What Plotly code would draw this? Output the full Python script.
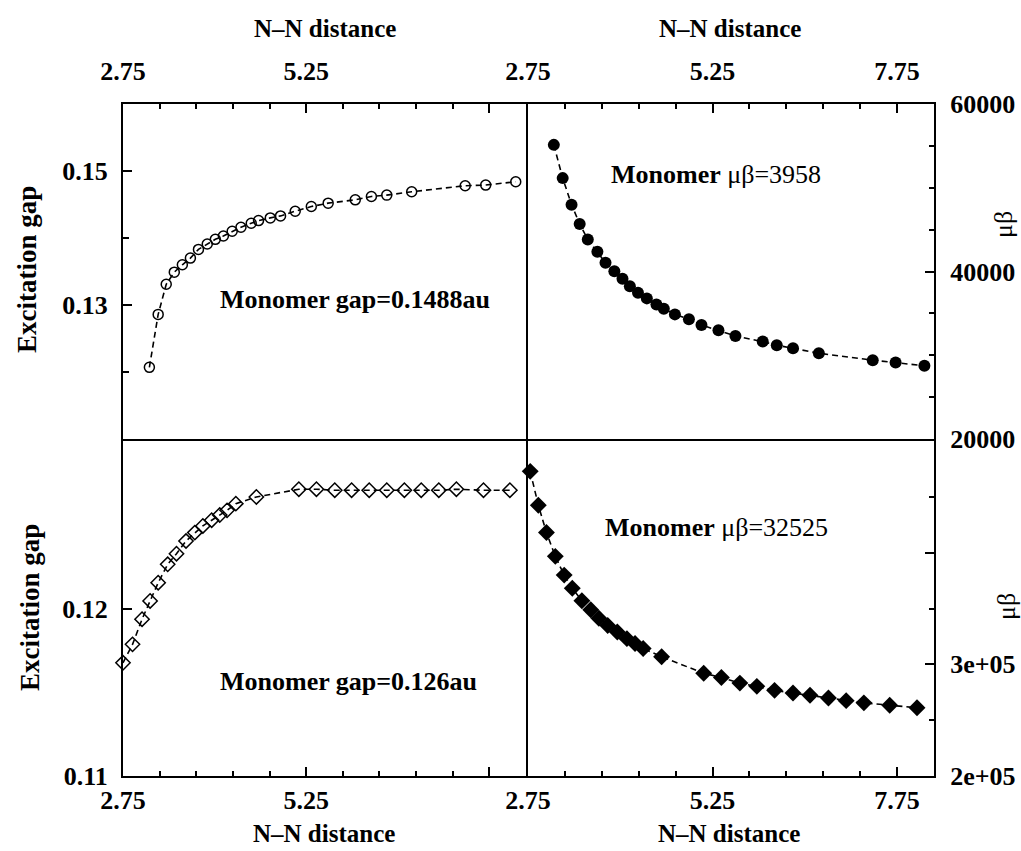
import plotly.graph_objects as go

# ---------------- data ----------------
x_gap_top = [3.11, 3.23, 3.34, 3.45, 3.56, 3.67, 3.78, 3.90, 4.01, 4.12, 4.24, 4.36, 4.50,
             4.60, 4.76, 4.90, 5.10, 5.32, 5.55, 5.92, 6.14, 6.35, 6.69, 7.42, 7.70, 8.11]
gap_top = [0.1207, 0.1286, 0.1331, 0.1349, 0.1360, 0.1370, 0.1383, 0.1391, 0.1398, 0.1403,
           0.1410, 0.1416, 0.1422, 0.1426, 0.1430, 0.1433, 0.1440, 0.1447, 0.1452, 0.1457,
           0.1462, 0.1464, 0.1469, 0.1478, 0.1479, 0.1484]

x_mb_top = [3.10, 3.22, 3.34, 3.45, 3.56, 3.69, 3.80, 3.92, 4.03, 4.13, 4.24, 4.36, 4.49,
            4.59, 4.74, 4.93, 5.10, 5.33, 5.56, 5.93, 6.12, 6.34, 6.69, 7.42, 7.73, 8.12]
mb_top = [55120, 51150, 47980, 45680, 43810, 42350, 41040, 40040, 39130, 38250, 37460,
          36790, 36070, 35560, 34880, 34290, 33610, 32980, 32300, 31630, 31190, 30830,
          30240, 29410, 29130, 28740]

x_gap_bot = [2.75, 2.88, 3.01, 3.12, 3.23, 3.36, 3.48, 3.61, 3.73, 3.84, 3.96, 4.07, 4.17,
             4.29, 4.57, 5.15, 5.39, 5.64, 5.87, 6.11, 6.35, 6.59, 6.82, 7.06, 7.30, 7.67, 8.03]
gap_bot = [0.11676, 0.11786, 0.11936, 0.12045, 0.12154, 0.12264, 0.12327, 0.12403, 0.12453,
           0.12493, 0.12527, 0.12558, 0.12586, 0.12626, 0.12666, 0.12712, 0.12712, 0.12706,
           0.12706, 0.12706, 0.12706, 0.12706, 0.12706, 0.12706, 0.12712, 0.12706, 0.12706]

x_mb_bot = [2.78, 2.89, 3.00, 3.12, 3.24, 3.35, 3.48, 3.60, 3.71, 3.83, 3.96, 4.09, 4.20,
            4.31, 4.56, 5.13, 5.37, 5.62, 5.85, 6.09, 6.34, 6.57, 6.82, 7.06, 7.30, 7.65, 8.02]
mb_bot = [472800, 442500, 418000, 396700, 379900, 368100, 356900, 348900, 341300, 334800,
          328900, 323000, 318600, 314200, 306800, 292000, 288200, 283200, 280300, 276700,
          274300, 272300, 269900, 267500, 265500, 263400, 261100]

x_tickvals_left = [2.75, 5.25, 7.75]
x_ticktext_left = ["2.75", "5.25", ""]
x_tickvals_right = [2.75, 5.25, 7.75]
x_ticktext_right = ["2.75", "5.25", "7.75"]
gap_top_tickvals = [0.11, 0.13, 0.15]
gap_top_ticktext = ["", "0.13", "0.15"]
gap_bot_tickvals = [0.11, 0.12, 0.13]
gap_bot_ticktext = ["0.11", "0.12", ""]
mb_top_tickvals = [20000, 40000, 60000]
mb_top_ticktext = ["20000", "40000", "60000"]
mb_bot_tickvals = [200000, 300000, 400000, 500000]
mb_bot_ticktext = ["2e+05", "3e+05", "", ""]

# ---------------- figure ----------------
W, H = 1021, 851
FONT = "Liberation Serif"
L, M, R = 123, 527, 934
T, C, B = 104, 440, 776
LW = 2

def fx(px):
    return px / W

def fy(py):
    return 1 - py / H

line_style = dict(color="black", width=1.6, dash="6px,4px")

fig = go.Figure()
fig.add_trace(go.Scatter(x=x_gap_top, y=gap_top, mode="lines+markers", xaxis="x", yaxis="y",
                         line=line_style, cliponaxis=False,
                         marker=dict(symbol="circle-open", size=10, color="black",
                                     line=dict(width=1.5, color="black"))))
fig.add_trace(go.Scatter(x=x_mb_top, y=mb_top, mode="lines+markers", xaxis="x2", yaxis="y2",
                         line=line_style, cliponaxis=False,
                         marker=dict(symbol="circle", size=12, color="black")))
fig.add_trace(go.Scatter(x=x_gap_bot, y=gap_bot, mode="lines+markers", xaxis="x3", yaxis="y3",
                         line=line_style, cliponaxis=False,
                         marker=dict(symbol="diamond-open", size=11, color="black",
                                     line=dict(width=1.5, color="black"))))
fig.add_trace(go.Scatter(x=x_mb_bot, y=mb_bot, mode="lines+markers", xaxis="x4", yaxis="y4",
                         line=line_style, cliponaxis=False,
                         marker=dict(symbol="diamond", size=13, color="black")))

tickfont = dict(family=FONT, size=26, color="black", weight="bold")

def axis(**kw):
    d = dict(showline=True, linewidth=LW, linecolor="black", mirror=True,
             ticks="inside", ticklen=9, tickwidth=1.5, tickcolor="black",
             showgrid=False, zeroline=False, automargin=False, tickfont=tickfont,
             tickmode="array")
    d.update(kw)
    return d

xminor = dict(ticks="inside", ticklen=5, tickwidth=1.5, tickcolor="black",
              tickmode="linear", tick0=2.75, dtick=0.5, showgrid=False)

h = LW / 2
xdl = [fx(L), fx(M - h)]
xdr = [fx(M + h), fx(R)]
ydt = [fy(C - h), fy(T)]
ydb = [fy(B), fy(C + h)]

fig.update_layout(
    width=W, height=H, margin=dict(l=0, r=0, t=0, b=0),
    paper_bgcolor="white", plot_bgcolor="white", showlegend=False,
    template="none",
    xaxis=axis(domain=xdl, anchor="y", side="top", range=[2.75, 8.25],
               tickvals=x_tickvals_left, ticktext=x_ticktext_left,
               minor=xminor, ticklabelstandoff=12),
    xaxis2=axis(domain=xdr, anchor="y2", side="top", range=[2.75, 8.25],
                tickvals=x_tickvals_right, ticktext=x_ticktext_right,
                minor=xminor, ticklabelstandoff=12),
    xaxis3=axis(domain=xdl, anchor="y3", side="bottom", range=[2.75, 8.25],
                tickvals=x_tickvals_left, ticktext=x_ticktext_left,
                minor=xminor, ticklabelstandoff=0),
    xaxis4=axis(domain=xdr, anchor="y4", side="bottom", range=[2.75, 8.25],
                tickvals=x_tickvals_right, ticktext=x_ticktext_right,
                minor=xminor, ticklabelstandoff=0),
    yaxis=axis(domain=ydt, anchor="x", side="left", range=[0.11, 0.16],
               tickvals=gap_top_tickvals, ticktext=gap_top_ticktext,
               minor=dict(ticks="inside", ticklen=6, tickwidth=1.5, tickcolor="black",
                          tickmode="linear", tick0=0.11, dtick=0.01, showgrid=False),
               ticklabelstandoff=8),
    yaxis2=axis(domain=ydt, anchor="x2", side="right", range=[20000, 60000],
                tickvals=mb_top_tickvals, ticktext=mb_top_ticktext,
                minor=dict(ticks="inside", ticklen=5, tickwidth=1.5, tickcolor="black",
                           tickmode="linear", tick0=20000, dtick=5000, showgrid=False),
                ticklabelstandoff=9),
    yaxis3=axis(domain=ydb, anchor="x3", side="left", range=[0.11, 0.13],
                tickvals=gap_bot_tickvals, ticktext=gap_bot_ticktext,
                ticklabelstandoff=8),
    yaxis4=axis(domain=ydb, anchor="x4", side="right", range=[200000, 500000],
                tickvals=mb_bot_tickvals, ticktext=mb_bot_ticktext,
                minor=dict(ticks="inside", ticklen=5, tickwidth=1.5, tickcolor="black",
                           tickmode="linear", tick0=200000, dtick=50000, showgrid=False),
                ticklabelstandoff=9),
)

title_font = dict(family=FONT, size=25, color="black", weight="bold")
ann = []

def paper_text(text, px, py, font, angle=0):
    ann.append(dict(text=text, x=fx(px), y=fy(py), xref="paper", yref="paper",
                    xanchor="center", yanchor="middle", showarrow=False,
                    textangle=angle, font=font))

# axis titles
paper_text("N\u2013N distance", 325, 28, title_font)
paper_text("N\u2013N distance", 730, 28, title_font)
paper_text("N\u2013N distance", 324, 833, title_font)
paper_text("N\u2013N distance", 729, 833, title_font)
gap_font = dict(family=FONT, size=27, color="black", weight="bold")
paper_text("Excitation gap", 27, 270, gap_font, -90)
paper_text("Excitation gap", 30, 608, gap_font, -90)
mu_font = dict(family=FONT, size=26, color="black")
paper_text("\u03bc\u03b2", 1003, 225, mu_font, -90)
paper_text("\u03bc\u03b2", 1006, 607, mu_font, -90)

# in-panel notes
note_font = dict(family=FONT, size=26, color="black")
for text, x, y, xr, yr in [
    ("<b>Monomer gap=0.1488au</b>", 5.91, 0.1308, "x", "y"),
    ("<b>Monomer</b> \u03bc\u03b2=3958", 5.29, 51550, "x2", "y2"),
    ("<b>Monomer gap=0.126au</b>", 5.83, 0.11567, "x3", "y3"),
    ("<b>Monomer</b> \u03bc\u03b2=32525", 5.31, 422100, "x4", "y4"),
]:
    ann.append(dict(text=text, x=x, y=y, xref=xr, yref=yr, xanchor="center",
                    yanchor="middle", showarrow=False, font=note_font))

fig.update_layout(annotations=ann)

fig.write_html("out.html", config={"displayModeBar": False},
               post_script="document.body.style.margin='0';document.body.style.overflow='hidden';")
